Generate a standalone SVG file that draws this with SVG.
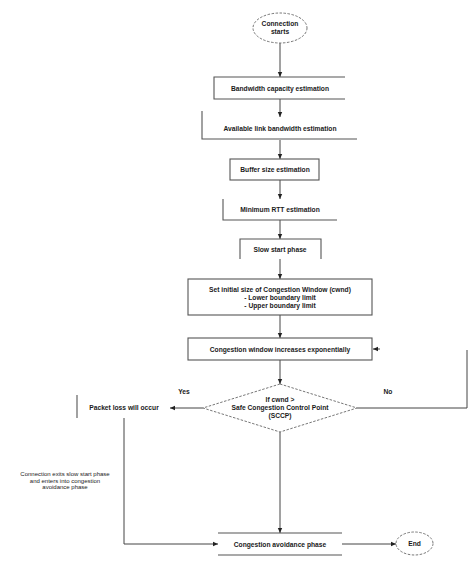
<svg xmlns="http://www.w3.org/2000/svg" width="474" height="562" viewBox="0 0 474 562">
<defs>
<marker id="ah" markerWidth="6" markerHeight="6" refX="5" refY="3" orient="auto" markerUnits="userSpaceOnUse">
<path d="M0,0.8 L5,3 L0,5.2 Z" fill="#222"/>
</marker>
<style>
.ln{fill:none;stroke:#555;stroke-width:1}
.bx{fill:none;stroke:#555;stroke-width:1.1}
.ds{fill:none;stroke:#666;stroke-width:0.9;stroke-dasharray:2.5,1.5}
.t{font-family:"Liberation Sans",Arial,sans-serif;font-size:6.7px;font-weight:bold;fill:#1a1a1a;text-anchor:middle}
.s{font-family:"Liberation Sans",Arial,sans-serif;font-size:6px;fill:#222;text-anchor:middle}
.c{stroke:#444;stroke-width:1;fill:none}
</style>
</defs>
<rect width="474" height="562" fill="#fff"/>
<g id="connectors">
<line class="c" x1="280" y1="43" x2="280" y2="77" marker-end="url(#ah)"/>
<line class="c" x1="280" y1="99" x2="280" y2="117" marker-end="url(#ah)"/>
<line class="c" x1="280" y1="140" x2="280" y2="159" marker-end="url(#ah)"/>
<line class="c" x1="280" y1="180" x2="280" y2="199" marker-end="url(#ah)"/>
<line class="c" x1="280" y1="220" x2="280" y2="239" marker-end="url(#ah)"/>
<line class="c" x1="280" y1="259" x2="280" y2="279" marker-end="url(#ah)"/>
<line class="c" x1="280" y1="315" x2="280" y2="338" marker-end="url(#ah)"/>
<line class="c" x1="280" y1="360" x2="280" y2="384" marker-end="url(#ah)"/>
<line class="c" x1="203" y1="408" x2="170" y2="408" marker-end="url(#ah)"/>
<path class="c" d="M357,408 H467 V350"/>
<line class="c" x1="380" y1="349" x2="373" y2="349" marker-end="url(#ah)"/>
<line class="c" x1="280" y1="432" x2="280" y2="533" marker-end="url(#ah)"/>
<path class="c" d="M124,418 V544 H218" marker-end="url(#ah)"/>
<line class="c" x1="342" y1="544" x2="396" y2="544" marker-end="url(#ah)"/>
<text class="t" x="184" y="394">Yes</text>
<text class="t" x="388" y="394">No</text>
</g>
<g id="start">
<ellipse class="ds" cx="280" cy="28" rx="27" ry="15"/>
<text class="t" x="280" y="26">Connection</text>
<text class="t" x="280" y="34">starts</text>
</g>
<g id="bandwidth-capacity">
<path class="bx" d="M345,77 H214 V99 H345"/>
<text class="t" x="280" y="90.5">Bandwidth capacity estimation</text>
</g>
<g id="available-link">
<path class="bx" d="M202,111 V139 H357"/>
<text class="t" x="280" y="131">Available link bandwidth estimation</text>
</g>
<g id="buffer-size">
<rect class="bx" x="230" y="159" width="89" height="21"/>
<text class="t" x="275" y="172">Buffer size estimation</text>
</g>
<g id="min-rtt">
<path class="bx" d="M223,199 V220 H337"/>
<text class="t" x="280" y="212">Minimum RTT estimation</text>
</g>
<g id="slow-start">
<path class="bx" d="M240,259 V239 H321 V259"/>
<text class="t" x="280" y="252">Slow start phase</text>
</g>
<g id="set-cwnd">
<rect class="bx" x="188" y="279" width="184" height="36"/>
<text class="t" x="280" y="292">Set initial size of Congestion Window (cwnd)</text>
<text class="t" x="280" y="300">- Lower boundary limit</text>
<text class="t" x="280" y="308">- Upper boundary limit</text>
</g>
<g id="cwnd-increase">
<rect class="bx" x="188" y="338" width="184" height="22"/>
<text class="t" x="280" y="351.5">Congestion window increases exponentially</text>
</g>
<g id="decision">
<polygon class="ds" points="280,384 357,408 280,432 203,408"/>
<text class="t" x="280" y="402">If cwnd &gt;</text>
<text class="t" x="280" y="410">Safe Congestion Control Point</text>
<text class="t" x="280" y="418">(SCCP)</text>
</g>
<g id="packet-loss">
<line class="bx" x1="77" y1="395" x2="77" y2="418"/>
<text class="t" x="124" y="410">Packet loss will occur</text>
</g>
<g id="note">
<text class="s" x="65" y="476">Connection exits slow start phase</text>
<text class="s" x="65" y="482.5">and enters into congestion</text>
<text class="s" x="65" y="489">avoidance phase</text>
</g>
<g id="congestion-avoidance">
<line class="bx" x1="218" y1="533" x2="342" y2="533"/>
<line class="bx" x1="218" y1="555" x2="342" y2="555"/>
<text class="t" x="280" y="546.5">Congestion avoidance phase</text>
</g>
<g id="end">
<ellipse class="ds" cx="414.5" cy="543.5" rx="18.5" ry="11.5"/>
<text class="t" x="414.5" y="546">End</text>
</g>
</svg>
